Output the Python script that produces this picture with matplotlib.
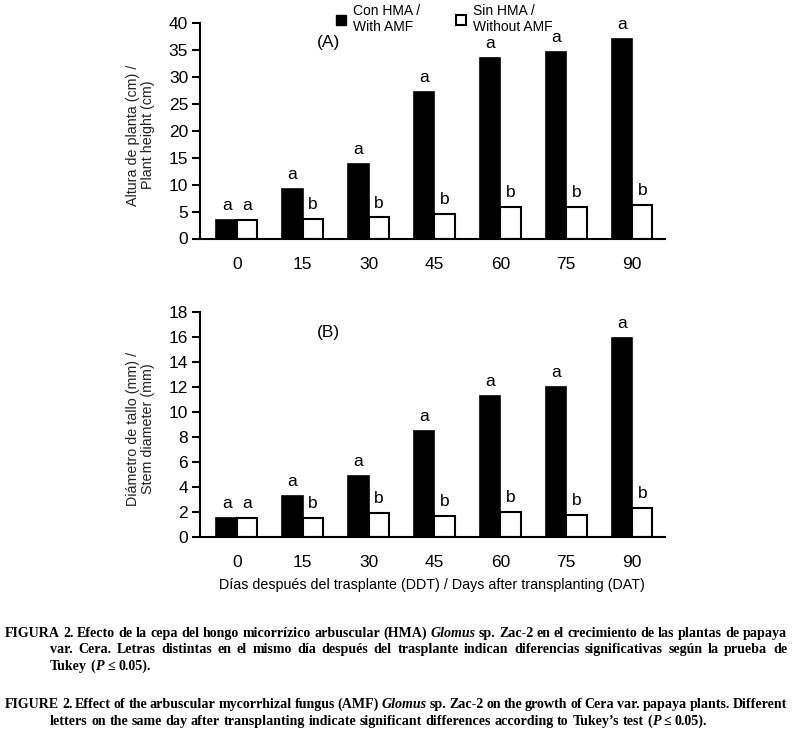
import matplotlib
matplotlib.use('Agg')
import matplotlib.pyplot as plt
from matplotlib.patches import Patch
import numpy as np

plt.rcParams['font.family'] = ['Liberation Sans', 'DejaVu Sans']

# datos
days = ['0', '15', '30', '45', '60', '75', '90']
height_amf = [3.4, 9.2, 13.8, 27.1, 33.5, 34.6, 37.0]
height_no_amf = [3.4, 3.7, 3.9, 4.5, 5.8, 5.8, 6.3]
diam_amf = [1.5, 3.3, 4.9, 8.5, 11.3, 12.0, 15.9]
diam_no_amf = [1.5, 1.5, 1.9, 1.65, 2.0, 1.75, 2.3]
letters_amf = ['a', 'a', 'a', 'a', 'a', 'a', 'a']
letters_no_amf = ['a', 'b', 'b', 'b', 'b', 'b', 'b']

W, H = 792, 739
fig = plt.figure(figsize=(W / 100, H / 100), dpi=100)

ax1 = fig.add_axes([200 / W, 1 - 238.5 / H, 465 / W, 215.8 / H])
ax2 = fig.add_axes([200 / W, 1 - 537 / H, 465 / W, 225.3 / H])

x = np.arange(len(days))
w = 0.31


def panel(ax, amf, no_amf, ymax, step, tag, ylabel):
    ax.bar(x - w / 2, amf, w, color='black', edgecolor='black', linewidth=1.2)
    ax.bar(x + w / 2, no_amf, w, color='white', edgecolor='black', linewidth=1.5)
    for i in range(len(days)):
        ax.annotate(letters_amf[i], (x[i] - w / 2, amf[i]), xytext=(0, 5),
                    textcoords='offset points', ha='center', va='bottom', fontsize=12.5)
        ax.annotate(letters_no_amf[i], (x[i] + w / 2, no_amf[i]), xytext=(0, 5),
                    textcoords='offset points', ha='center', va='bottom', fontsize=12.5)
    ax.set_xlim(-0.56, 6.5)
    ax.set_ylim(0, ymax)
    ax.set_yticks(np.arange(0, ymax + 1, step))
    ax.set_xticks(x)
    ax.set_xticklabels(days)
    for s in ['top', 'right']:
        ax.spines[s].set_visible(False)
    for s in ['left', 'bottom']:
        ax.spines[s].set_linewidth(1.5)
    ax.tick_params(axis='y', direction='out', length=6, width=1.5, pad=2.5, labelsize=12.5)
    ax.tick_params(axis='x', length=0, pad=13, labelsize=12.5)
    ax.text(1.39, ymax * 0.907, tag, ha='center', va='center', fontsize=12.5)
    ax.set_ylabel(ylabel, fontsize=10.3, linespacing=1.1, color='#222222')
    ax.yaxis.set_label_coords(-0.097, 0.48)


panel(ax1, height_amf, height_no_amf, 40, 5, '(A)',
      'Altura de planta (cm) /\nPlant height (cm)')
panel(ax2, diam_amf, diam_no_amf, 18, 2, '(B)',
      'Diámetro de tallo (mm) /\nStem diameter (mm)')

handles = [Patch(facecolor='black', edgecolor='black'),
           Patch(facecolor='white', edgecolor='black', linewidth=1.5)]
fig.legend(handles, ['Con HMA /\nWith AMF', 'Sin HMA /\nWithout AMF'],
           loc='upper left', bbox_to_anchor=(336 / W, 1 - 4 / H), ncol=2,
           frameon=False, fontsize=10, handlelength=0.75, handleheight=0.75,
           handletextpad=0.45, columnspacing=2.6, borderpad=0, borderaxespad=0,
           labelspacing=0.2)

fig.text(432 / W, 1 - 585 / H,
         'Días después del trasplante (DDT) / Days after transplanting (DAT)',
         ha='center', va='center', fontsize=10.3)

# pie de figura
cap_size = 10.1
cap_family = ['Liberation Serif', 'DejaVu Serif']
caption = [
    ('FIGURA 2. Efecto de la cepa del hongo micorrízico arbuscular (HMA) _Glomus_ sp. '
     'Zac-2 en el crecimiento de las plantas de papaya', 5, 637, True),
    ('var. Cera. Letras distintas en el mismo día después del trasplante indican '
     'diferencias significativas según la prueba de', 50, 653, True),
    ('Tukey (_P_ ≤ 0.05).', 50, 670, False),
    ('FIGURE 2. Effect of the arbuscular mycorrhizal fungus (AMF) _Glomus_ sp. Zac-2 '
     'on the growth of Cera var. papaya plants. Different', 5, 708, True),
    ('letters on the same day after transplanting indicate significant differences '
     'according to Tukey’s test (_P_ ≤ 0.05).', 50, 725, False),
]

renderer = fig.canvas.get_renderer()


def draw_word(word, xpx, ypx):
    parts = word.split('_')
    for k, p in enumerate(parts):
        if not p:
            continue
        t = fig.text(xpx / W, 1 - ypx / H, p, fontsize=cap_size, family=cap_family,
                     weight='bold', style='italic' if k % 2 else 'normal',
                     va='baseline', ha='left')
        xpx += t.get_window_extent(renderer).width
    return xpx


def word_width(word):
    total = 0
    for k, p in enumerate(word.split('_')):
        if not p:
            continue
        t = fig.text(0, 0, p, fontsize=cap_size, family=cap_family, weight='bold',
                     style='italic' if k % 2 else 'normal')
        total += t.get_window_extent(renderer).width
        t.remove()
    return total


space = 0.25 * cap_size * 100 / 72
for line, x0, y0, justify in caption:
    words = line.split(' ')
    widths = [word_width(wd) for wd in words]
    gap = space
    if justify:
        gap = (787 - x0 - sum(widths)) / (len(words) - 1)
    xp = x0
    for wd, wdw in zip(words, widths):
        draw_word(wd, xp, y0)
        xp += wdw + gap

fig.savefig('out.png', dpi=100)
